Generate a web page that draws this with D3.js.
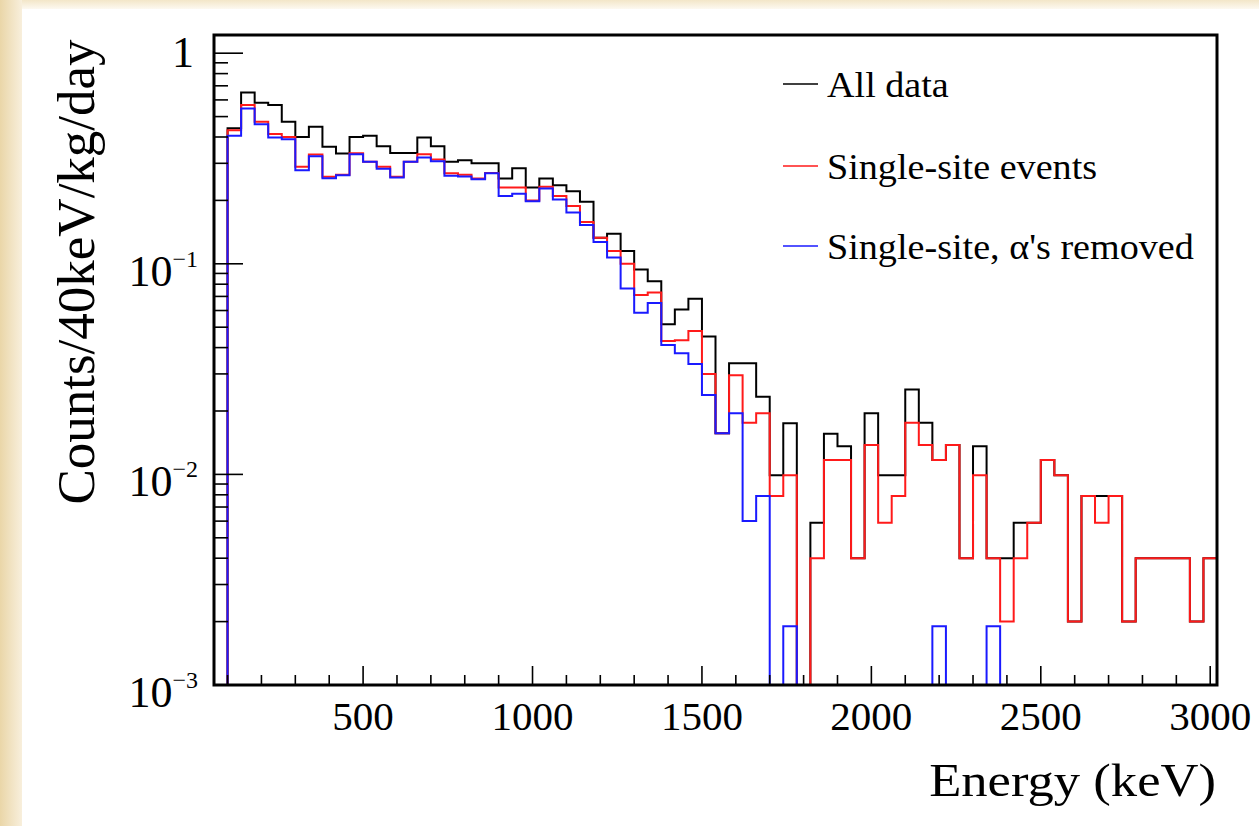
<!DOCTYPE html>
<html>
<head>
<meta charset="utf-8">
<script src="https://cdn.jsdelivr.net/npm/d3@7/dist/d3.min.js"></script>
<style>
  body { margin: 0; background: #fff; }
  text { font-family: "Liberation Serif", "DejaVu Serif", serif; fill: #000; }
</style>
</head>
<body>
<div id="chart"></div>
<script>
// 40 keV bins starting at 100 keV
var binStart = 100, binWidth = 40;

var allData = [0.44, 0.651, 0.581, 0.567, 0.472, 0.40, 0.447, 0.36, 0.334, 0.40,
    0.405, 0.362, 0.336, 0.336, 0.398, 0.362, 0.305, 0.31, 0.30, 0.30,
    0.254, 0.284, 0.23, 0.254, 0.236, 0.221, 0.197, 0.133, 0.139, 0.115,
    0.094, 0.0827, 0.0517, 0.0607, 0.0682, 0.0451, 0.0157, 0.0337, 0.0337, 0.0234,
    0.0099, 0.0175, 0, 0.0059, 0.0156, 0.0136, 0.004, 0.0195, 0.0099, 0.0099,
    0.0253, 0.0176, 0.0117, 0.0138, 0.004, 0.0136, 0.004, 0.004, 0.0059, 0.0059,
    0.0117, 0.0099, 0.002, 0.0079, 0.0079, 0.0079, 0.002, 0.004, 0.004, 0.004,
    0.004, 0.002, 0.004];

var singleSite = [0.431, 0.567, 0.472, 0.413, 0.40, 0.289, 0.33, 0.259, 0.265, 0.335,
    0.305, 0.289, 0.259, 0.305, 0.331, 0.313, 0.269, 0.265, 0.254, 0.27,
    0.23, 0.23, 0.2, 0.232, 0.21, 0.188, 0.158, 0.133, 0.115, 0.10,
    0.071, 0.073, 0.043, 0.0434, 0.048, 0.030, 0.0157, 0.0296, 0.0176, 0.0195,
    0.0079, 0.0099, 0, 0.004, 0.0117, 0.0117, 0.004, 0.0138, 0.0059, 0.0079,
    0.0176, 0.0138, 0.0117, 0.0138, 0.004, 0.0099, 0.004, 0.002, 0.004, 0.0059,
    0.0117, 0.0099, 0.002, 0.0079, 0.0059, 0.0079, 0.002, 0.004, 0.004, 0.004,
    0.004, 0.002, 0.004];

var alphasRemoved = [0.405, 0.546, 0.46, 0.398, 0.39, 0.278, 0.324, 0.255, 0.263, 0.331,
    0.305, 0.283, 0.257, 0.305, 0.32, 0.307, 0.262, 0.26, 0.252, 0.269,
    0.21, 0.215, 0.198, 0.228, 0.202, 0.175, 0.153, 0.127, 0.107, 0.0764,
    0.0586, 0.0651, 0.0412, 0.0376, 0.0334, 0.0238, 0.0157, 0.0195, 0.006, 0.0079,
    0, 0.0019, 0, 0, 0, 0, 0, 0, 0, 0,
    0, 0, 0.0019, 0, 0, 0, 0.0019, 0, 0, 0,
    0, 0, 0, 0, 0, 0, 0, 0, 0, 0,
    0, 0, 0];

var seriesNames = ["All data", "Single-site events", "Single-site, \u03b1's removed"];
var seriesColors = ["#000000", "#ff1a1a", "#1a1aff"];
var xTickLabels = [500, 1000, 1500, 2000, 2500, 3000];
var yTickExps = [0, -1, -2, -3];

function drawChart() {
    var width = 1259, height = 826;
    var pLeft = 214, pRight = 1217, pTop = 35, pBottom = 685;
    var ymin = 1e-3, ymax = 1.22;

    var svg = d3.select("#chart").append("svg")
        .attr("width", width)
        .attr("height", height);

    // slide background edges
    var defs = svg.append("defs");
    var gl = defs.append("linearGradient").attr("id", "gl").attr("x1", 0).attr("x2", 1);
    gl.append("stop").attr("offset", "0%").attr("stop-color", "#ead6a8");
    gl.append("stop").attr("offset", "100%").attr("stop-color", "#f8efdc");
    var gt = defs.append("linearGradient").attr("id", "gt").attr("x1", 0).attr("x2", 0).attr("y1", 0).attr("y2", 1);
    gt.append("stop").attr("offset", "0%").attr("stop-color", "#f3e6c8");
    gt.append("stop").attr("offset", "100%").attr("stop-color", "#fdf9f1");
    svg.append("rect").attr("x", 0).attr("y", 0).attr("width", width).attr("height", 9).attr("fill", "url(#gt)");
    svg.append("rect").attr("x", 0).attr("y", 0).attr("width", 22).attr("height", height).attr("fill", "url(#gl)");

    var x = d3.scaleLinear().domain([60, 3020]).range([pLeft, pRight]);
    var y = d3.scaleLog().domain([ymin, ymax]).range([pBottom, pTop]);

    // histograms, zero bins sit on the bottom edge like ROOT does
    function steps(vals) {
        var pts = [[binStart, ymin]];
        vals.forEach(function(v, i) {
            var e0 = binStart + i * binWidth;
            pts.push([e0, v]);
            pts.push([e0 + binWidth, v]);
        });
        pts.push([binStart + vals.length * binWidth, ymin]);
        return pts;
    }

    var line = d3.line()
        .x(function(d) { return x(d[0]); })
        .y(function(d) { return y(Math.max(d[1], ymin)); });

    var plot = svg.append("g");
    [allData, singleSite, alphasRemoved].forEach(function(vals, k) {
        plot.append("path")
            .attr("d", line(steps(vals)))
            .attr("fill", "none")
            .attr("stroke", seriesColors[k])
            .attr("stroke-width", 2);
    });

    // x axis ticks
    var xMinor = d3.range(100, 3001, 100);
    svg.append("g").selectAll("line")
        .data(xMinor)
        .enter().append("line")
        .attr("x1", function(d) { return x(d); })
        .attr("x2", function(d) { return x(d); })
        .attr("y1", pBottom)
        .attr("y2", function(d) { return d % 500 === 0 ? pBottom - 19 : pBottom - 10; })
        .attr("stroke", "#000")
        .attr("stroke-width", 1.6);

    svg.append("g").selectAll("text")
        .data(xTickLabels)
        .enter().append("text")
        .attr("x", function(d) { return x(d); })
        .attr("y", 730)
        .attr("text-anchor", "middle")
        .attr("font-size", 41)
        .text(function(d) { return d; });

    // y axis ticks
    var yMinor = [];
    [-3, -2, -1, 0].forEach(function(e) {
        for (var m = 1; m <= 9; m++) {
            var v = m * Math.pow(10, e);
            if (v <= ymax) yMinor.push({ v: v, major: m === 1 });
        }
    });
    svg.append("g").selectAll("line")
        .data(yMinor)
        .enter().append("line")
        .attr("x1", pLeft)
        .attr("x2", function(d) { return d.major ? pLeft + 29 : pLeft + 14; })
        .attr("y1", function(d) { return y(d.v); })
        .attr("y2", function(d) { return y(d.v); })
        .attr("stroke", "#000")
        .attr("stroke-width", 1.6);

    var yl = svg.append("g").selectAll("text")
        .data(yTickExps)
        .enter().append("text")
        .attr("x", 198)
        .attr("y", function(d) { return y(Math.pow(10, d)) + 22; })
        .attr("text-anchor", "end")
        .attr("font-size", 44);
    yl.each(function(d) {
        var t = d3.select(this);
        if (d === 0) {
            t.attr("y", y(1) + 14).attr("x", 194).text("1");
        } else {
            t.append("tspan").text("10");
            t.append("tspan").attr("dy", -19).attr("font-size", 24).text("\u2212" + (-d));
        }
    });

    // frame
    svg.append("rect")
        .attr("x", pLeft).attr("y", pTop)
        .attr("width", pRight - pLeft).attr("height", pBottom - pTop)
        .attr("fill", "none")
        .attr("stroke", "#000")
        .attr("stroke-width", 3);

    // axis titles
    svg.append("text")
        .attr("transform", "translate(1216,796) scale(1.12,1)")
        .attr("text-anchor", "end")
        .attr("font-size", 47)
        .text("Energy (keV)");

    svg.append("text")
        .attr("transform", "translate(94,272) rotate(-90)")
        .attr("text-anchor", "middle")
        .attr("font-size", 53)
        .text("Counts/40keV/kg/day");

    // legend
    var legendY = [84, 166, 246];
    var lg = svg.append("g").selectAll("g")
        .data(seriesNames)
        .enter().append("g")
        .attr("transform", function(d, i) { return "translate(783," + legendY[i] + ")"; });
    lg.append("line")
        .attr("x1", 0).attr("x2", 35)
        .attr("stroke", function(d, i) { return seriesColors[i]; })
        .attr("stroke-width", 1.5);
    lg.append("text")
        .attr("transform", "translate(44,13) scale(1.09,1)")
        .attr("font-size", 35)
        .text(function(d) { return d; });
}
drawChart();
</script>
</body>
</html>
